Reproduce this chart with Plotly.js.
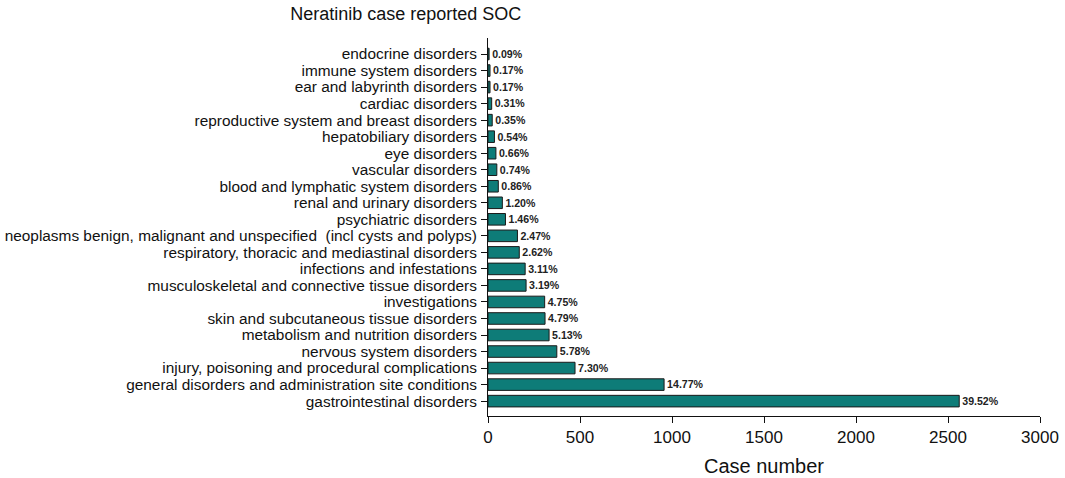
<!DOCTYPE html>
<html>
<head>
<meta charset="utf-8">
<script src="https://cdn.plot.ly/plotly-3.0.1.min.js"></script>
<style>
  html, body { margin: 0; padding: 0; background: #fff; }
  #soc-chart { width: 1065px; height: 478px; }
</style>
</head>
<body>
<div id="soc-chart"></div>
<script>
// system organ classes, bottom to top
const socNames = [
  'gastrointestinal disorders',
  'general disorders and administration site conditions',
  'injury, poisoning and procedural complications',
  'nervous system disorders',
  'metabolism and nutrition disorders',
  'skin and subcutaneous tissue disorders',
  'investigations',
  'musculoskeletal and connective tissue disorders',
  'infections and infestations',
  'respiratory, thoracic and mediastinal disorders',
  'neoplasms benign, malignant and unspecified  (incl cysts and polyps)',
  'psychiatric disorders',
  'renal and urinary disorders',
  'blood and lymphatic system disorders',
  'vascular disorders',
  'eye disorders',
  'hepatobiliary disorders',
  'reproductive system and breast disorders',
  'cardiac disorders',
  'ear and labyrinth disorders',
  'immune system disorders',
  'endocrine disorders'
];

const caseCounts = [2561, 957, 473, 374, 332, 310, 308, 207, 202, 170, 160,
  95, 78, 56, 48, 43, 35, 23, 20, 11, 11, 6];

const pctLabels = ['39.52%', '14.77%', '7.30%', '5.78%', '5.13%', '4.79%', '4.75%',
  '3.19%', '3.11%', '2.62%', '2.47%', '1.46%', '1.20%', '0.86%', '0.74%', '0.66%',
  '0.54%', '0.35%', '0.31%', '0.17%', '0.17%', '0.09%'];

const xTicks = [0, 500, 1000, 1500, 2000, 2500, 3000];

let socBars = {
  type: 'bar',
  orientation: 'h',
  x: caseCounts,
  y: socNames,
  text: pctLabels,
  textposition: 'outside',
  cliponaxis: false,
  textfont: {family: 'Liberation Sans, Arial, sans-serif', size: 11, color: '#222', weight: 'bold'},
  marker: {
    color: '#0e7c78',
    line: {color: '#1a1a1a', width: 1}
  },
  hoverinfo: 'none'
}

let socLayout = {
  width: 1065,
  height: 478,
  margin: {l: 488, r: 25, t: 38, b: 62},
  paper_bgcolor: '#fff',
  plot_bgcolor: '#fff',
  font: {family: 'Liberation Sans, Arial, sans-serif', color: '#111'},
  bargap: 0.3,
  showlegend: false,
  title: {
    text: 'Neratinib case reported SOC',
    font: {size: 18, color: '#111'},
    x: 0.381,
    xanchor: 'center',
    y: 0.985,
    yanchor: 'top'
  },
  xaxis: {
    range: [0, 3000],
    tickvals: xTicks,
    ticktext: xTicks.map(String),
    showline: true,
    linecolor: '#111',
    linewidth: 1,
    ticks: 'outside',
    ticklen: 6,
    tickcolor: '#111',
    showgrid: false,
    zeroline: false,
    tickfont: {size: 17},
    title: {text: 'Case number', font: {size: 20}, standoff: 12}
  },
  yaxis: {
    type: 'category',
    range: [-0.9, 21.97],
    tickmode: 'array',
    tickvals: socNames,
    ticktext: socNames,
    showline: true,
    linecolor: '#111',
    linewidth: 1,
    ticks: 'outside',
    ticklen: 6,
    tickcolor: '#111',
    showgrid: false,
    zeroline: false,
    tickfont: {size: 15.4},
    ticklabelstandoff: 1,
    automargin: false
  }
}

Plotly.newPlot('soc-chart', [socBars], socLayout, {staticPlot: true, displayModeBar: false});
</script>
</body>
</html>
